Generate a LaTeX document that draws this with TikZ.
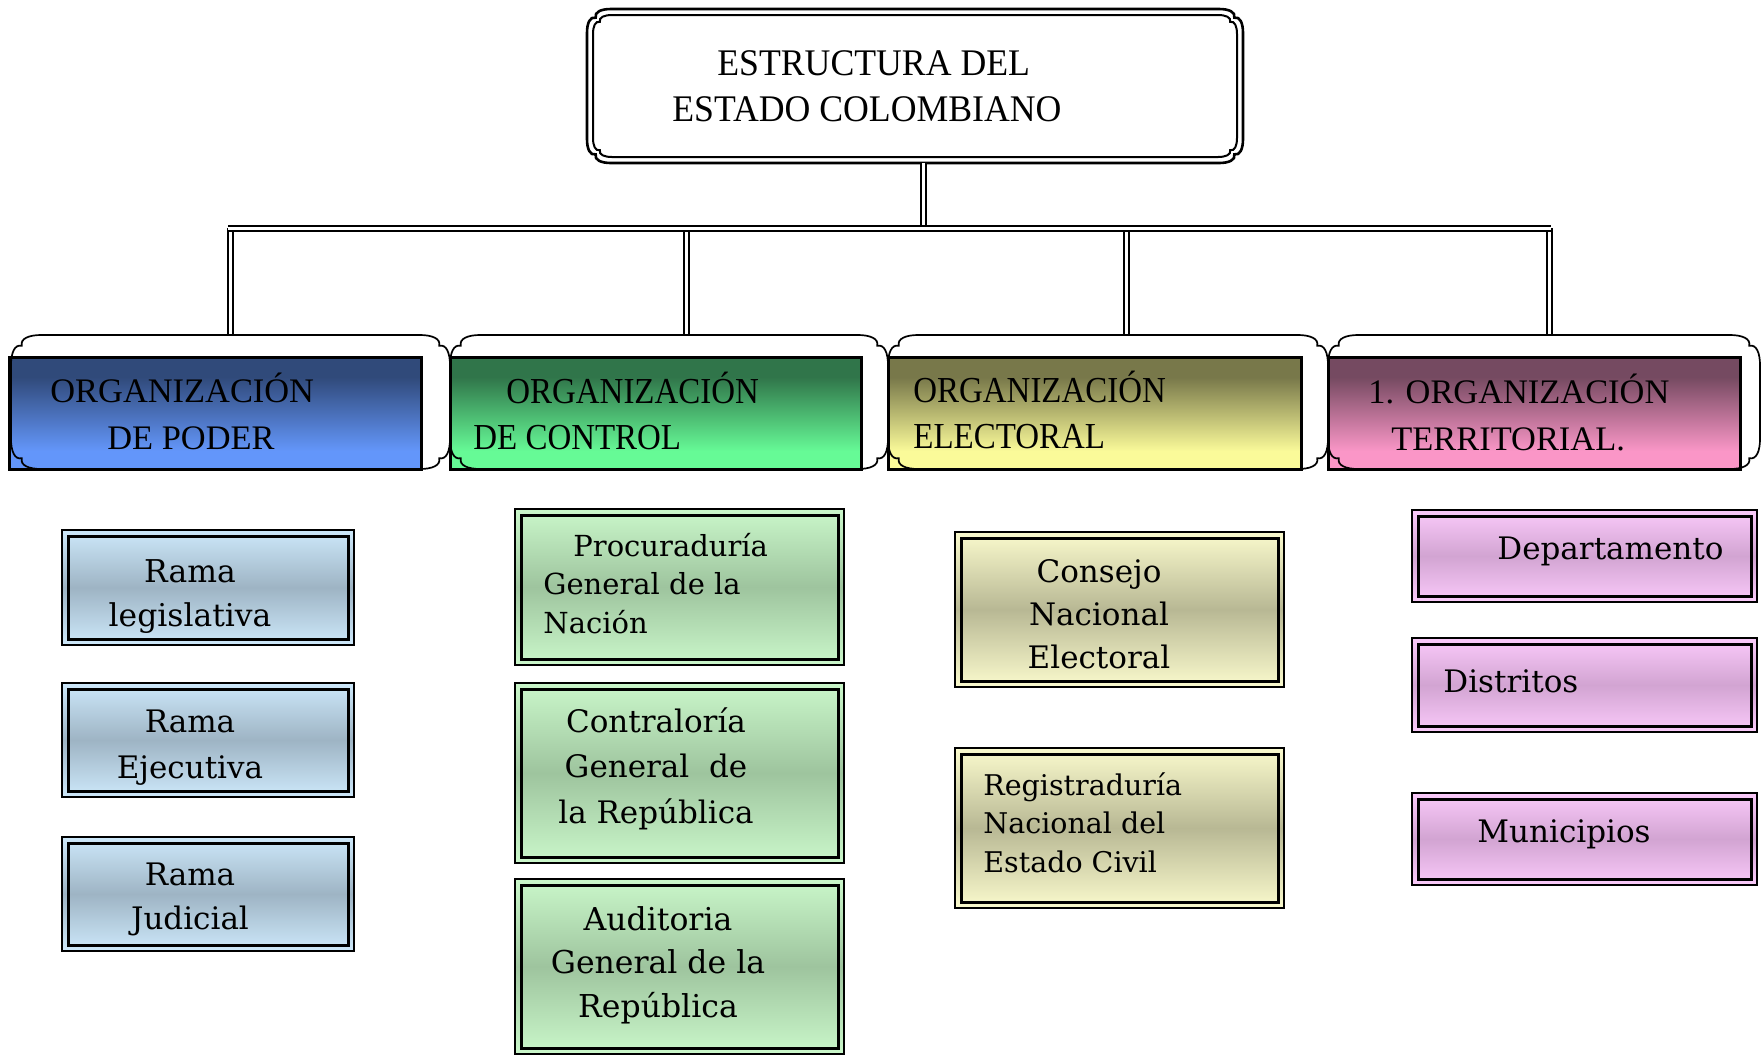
\documentclass[tikz,border=0pt]{standalone}
\usepackage{fontspec}
\setmainfont{Liberation Serif}
\newfontfamily\hdrfont{Liberation Serif}
\newfontfamily\narrowfont[FakeStretch=0.9]{Liberation Serif}
\newfontfamily\topfont[FakeStretch=0.95]{Liberation Serif}
\newfontfamily\boxfont{DejaVu Serif}

\definecolor{c1l}{RGB}{205,232,250}
\definecolor{c1m}{RGB}{158,180,196}
\definecolor{c2l}{RGB}{202,247,202}
\definecolor{c2m}{RGB}{158,196,158}
\definecolor{c3l}{RGB}{250,250,205}
\definecolor{c3m}{RGB}{184,184,148}
\definecolor{c4l}{RGB}{250,202,250}
\definecolor{c4m}{RGB}{210,164,210}

\pgfdeclareverticalshading{hdrA}{100bp}{rgb(0bp)=(0.39,0.59,0.98); rgb(33bp)=(0.39,0.59,0.98); rgb(66bp)=(0.19,0.29,0.48); rgb(100bp)=(0.19,0.29,0.48)}
\pgfdeclareverticalshading{hdrB}{100bp}{rgb(0bp)=(0.40,0.98,0.59); rgb(33bp)=(0.40,0.98,0.59); rgb(66bp)=(0.19,0.46,0.29); rgb(100bp)=(0.19,0.46,0.29)}
\pgfdeclareverticalshading{hdrC}{100bp}{rgb(0bp)=(0.98,0.98,0.60); rgb(33bp)=(0.98,0.98,0.60); rgb(66bp)=(0.47,0.47,0.29); rgb(100bp)=(0.47,0.47,0.29)}
\pgfdeclareverticalshading{hdrD}{100bp}{rgb(0bp)=(0.98,0.59,0.78); rgb(33bp)=(0.98,0.59,0.78); rgb(66bp)=(0.46,0.29,0.38); rgb(100bp)=(0.46,0.29,0.38)}

\tikzset{
  dline/.style={double=white, double distance=1.5pt, line width=1pt},
  ghost/.style={draw=none, inner sep=0pt},
  bumpy/.style n args={5}{insert path={
    ({#1+#5},#2) -- ({#3-#5},#2)
    .. controls ({#3-0.6*#5},#2) and ({#3-0.3*#5},{#2+0.12*#5}) .. ({#3-0.36*#5},{#2+0.36*#5})
    .. controls ({#3-0.12*#5},{#2+0.3*#5}) and (#3,{#2+0.6*#5}) .. (#3,{#2+#5})
    -- (#3,{#4-#5})
    .. controls (#3,{#4-0.6*#5}) and ({#3-0.12*#5},{#4-0.3*#5}) .. ({#3-0.36*#5},{#4-0.36*#5})
    .. controls ({#3-0.3*#5},{#4-0.12*#5}) and ({#3-0.6*#5},#4) .. ({#3-#5},#4)
    -- ({#1+#5},#4)
    .. controls ({#1+0.6*#5},#4) and ({#1+0.3*#5},{#4-0.12*#5}) .. ({#1+0.36*#5},{#4-0.36*#5})
    .. controls ({#1+0.12*#5},{#4-0.3*#5}) and (#1,{#4-0.6*#5}) .. (#1,{#4-#5})
    -- (#1,{#2+#5})
    .. controls (#1,{#2+0.6*#5}) and ({#1+0.12*#5},{#2+0.3*#5}) .. ({#1+0.36*#5},{#2+0.36*#5})
    .. controls ({#1+0.3*#5},{#2+0.12*#5}) and ({#1+0.6*#5},#2) .. ({#1+#5},#2)
    -- cycle}},
  shapeline/.style={line width=0.85pt},
  hbox/.style={draw=black, line width=1.5pt, shading=#1, inner sep=0pt},
  cbox/.style 2 args={draw=black, line width=0.9pt, top color=#1, bottom color=#1, middle color=#2, inner sep=0pt,
    path picture={\draw[line width=1.5pt] ([shift={(3pt,-3pt)}]path picture bounding box.north west) rectangle ([shift={(-2.8pt,2.8pt)}]path picture bounding box.south east);}},
  ttext/.style={anchor=base west, inner sep=0pt, font=\topfont\fontsize{18.8}{22}\selectfont},
  htext/.style={anchor=base west, inner sep=0pt, font=\hdrfont\fontsize{17.2}{20}\selectfont},
  ntext/.style={anchor=base west, inner sep=0pt, font=\narrowfont\fontsize{18.3}{21}\selectfont},
  ctext/.style={anchor=base, inner sep=0pt},
  ltext/.style={anchor=base west, inner sep=0pt},
}

\begin{document}
\begin{tikzpicture}[x=0.5pt, y=-0.5pt]
\path[fill=white, use as bounding box] (0,0) rectangle (1762,1057);

% ---- top box ----
\node[ghost, minimum width=328pt, minimum height=77pt] (top) at (915,86) {};
\draw[line width=1.3pt] [bumpy={587}{9}{1243}{163}{24}];
\draw[line width=1pt] [bumpy={593}{15}{1237}{157}{19}];
\node[ttext] (topA) at (717,75) {ESTRUCTURA DEL};
\node[ttext] (topB) at (672,121) {ESTADO COLOMBIANO};

% ---- header areas ----
\node[ghost, minimum width=219.5pt, minimum height=67pt] (s1) at (230.5,402) {};
\node[ghost, minimum width=219pt, minimum height=67pt] (s2) at (669,402) {};
\node[ghost, minimum width=220pt, minimum height=67pt] (s3) at (1108,402) {};
\node[ghost, minimum width=216pt, minimum height=67pt] (s4) at (1544,402) {};

% ---- connectors ----
\coordinate (busL) at (228,228);
\coordinate (busR) at (1551,228);
\coordinate (b1) at (230,228);
\coordinate (b2) at (686,228);
\coordinate (b3) at (1126,228);
\coordinate (b4) at (1549,228);
\draw[dline] ([xshift=4pt]top.south) -- ([xshift=4pt]top.south |- busL);
\draw[dline] (b1) -- (b1 |- s1.north);
\draw[dline] (b2) -- (b2 |- s2.north);
\draw[dline] (b3) -- (b3 |- s3.north);
\draw[dline] (b4) -- (b4 |- s4.north);
\draw[dline] (busL) -- (busR);

% ---- header white shapes ----
\fill[white] [bumpy={11}{335}{450}{469}{30}];
\fill[white] [bumpy={450}{335}{888}{469}{30}];
\fill[white] [bumpy={888}{335}{1328}{469}{30}];
\fill[white] [bumpy={1328}{335}{1760}{469}{30}];

% ---- header boxes ----
\node[hbox=hdrA, minimum width=206pt, minimum height=56pt] (h1) at (215,413) {};
\node[hbox=hdrB, minimum width=205.5pt, minimum height=56pt] (h2) at (655.5,413) {};
\node[hbox=hdrC, minimum width=206.5pt, minimum height=56pt] (h3) at (1094.5,413) {};
\node[hbox=hdrD, minimum width=206pt, minimum height=56pt] (h4) at (1534,413) {};

\draw[shapeline] [bumpy={11}{335}{450}{469}{30}];
\draw[shapeline] [bumpy={450}{335}{888}{469}{30}];
\draw[shapeline] [bumpy={888}{335}{1328}{469}{30}];
\draw[shapeline] [bumpy={1328}{335}{1760}{469}{30}];

\node[htext] (h1a) at (50,402) {ORGANIZACIÓN};
\node[htext] (h1b) at (107,449) {DE PODER};
\node[ntext] (h2a) at (506,403) {ORGANIZACIÓN};
\node[ntext] (h2b) at (473,449) {DE CONTROL};
\node[ntext] (h3a) at (913,402) {ORGANIZACIÓN};
\node[ntext] (h3b) at (913,448) {ELECTORAL};
\node[htext] (h4a) at (1368,403) {1. ORGANIZACIÓN};
\node[htext] (h4b) at (1391,450) {TERRITORIAL.};

% ---- column 1 ----
\node[cbox={c1l}{c1m}, minimum width=146pt, minimum height=57.5pt] (c11) at (208,587.5) {};
\node[cbox={c1l}{c1m}, minimum width=146pt, minimum height=57pt] (c12) at (208,740) {};
\node[cbox={c1l}{c1m}, minimum width=146pt, minimum height=57pt] (c13) at (208,894) {};
\node[ctext, font=\boxfont\fontsize{15.7}{22}\selectfont] (c11t) at (190,582) {\parbox[t]{140pt}{\centering Rama\\legislativa}};
\node[ctext, font=\boxfont\fontsize{15.5}{23}\selectfont] (c12t) at (190,732) {\parbox[t]{140pt}{\centering Rama\\Ejecutiva}};
\node[ctext, font=\boxfont\fontsize{15.5}{22}\selectfont] (c13t) at (190,885) {\parbox[t]{140pt}{\centering Rama\\Judicial}};

% ---- column 2 ----
\node[cbox={c2l}{c2m}, minimum width=164.5pt, minimum height=78pt] (c21) at (679.5,587) {};
\node[cbox={c2l}{c2m}, minimum width=164.5pt, minimum height=90pt] (c22) at (679.5,773) {};
\node[cbox={c2l}{c2m}, minimum width=164.5pt, minimum height=87.5pt] (c23) at (679.5,966.5) {};
\node[ltext, font=\boxfont\fontsize{14.5}{19.25}\selectfont] (c21t) at (543,556) {\parbox[t]{150pt}{\raggedright\hspace*{15pt}Procuraduría\\General de la\\Nación}};
\node[ctext, font=\boxfont\fontsize{15.5}{22.75}\selectfont] (c22t) at (656,732) {\parbox[t]{150pt}{\centering Contraloría\\General\ \ de\\la República}};
\node[ctext, font=\boxfont\fontsize{15.75}{21.75}\selectfont] (c23t) at (658,930) {\parbox[t]{150pt}{\centering Auditoria\\General de la\\República}};

% ---- column 3 ----
\node[cbox={c3l}{c3m}, minimum width=164.5pt, minimum height=77.5pt] (c31) at (1119.5,609.5) {};
\node[cbox={c3l}{c3m}, minimum width=164.5pt, minimum height=80pt] (c32) at (1119.5,828) {};
\node[ctext, font=\boxfont\fontsize{15.5}{21.5}\selectfont] (c31t) at (1099,582) {\parbox[t]{150pt}{\centering Consejo\\Nacional\\Electoral}};
\node[ltext, font=\boxfont\fontsize{14.25}{19.25}\selectfont] (c32t) at (983,795) {\parbox[t]{150pt}{\raggedright Registraduría\\Nacional del\\Estado Civil}};

% ---- column 4 ----
\node[cbox={c4l}{c4m}, minimum width=172.5pt, minimum height=46pt] (c41) at (1584.5,556) {};
\node[cbox={c4l}{c4m}, minimum width=172.5pt, minimum height=47pt] (c42) at (1584.5,685) {};
\node[cbox={c4l}{c4m}, minimum width=172.5pt, minimum height=46pt] (c43) at (1584.5,839) {};
\node[ltext, font=\boxfont\fontsize{15.5}{19}\selectfont] (c41t) at (1497,559) {Departamento};
\node[ltext, font=\boxfont\fontsize{15.5}{19}\selectfont] (c42t) at (1443,692) {Distritos};
\node[ltext, font=\boxfont\fontsize{15.5}{19}\selectfont] (c43t) at (1477,842) {Municipios};
\end{tikzpicture}
\end{document}
